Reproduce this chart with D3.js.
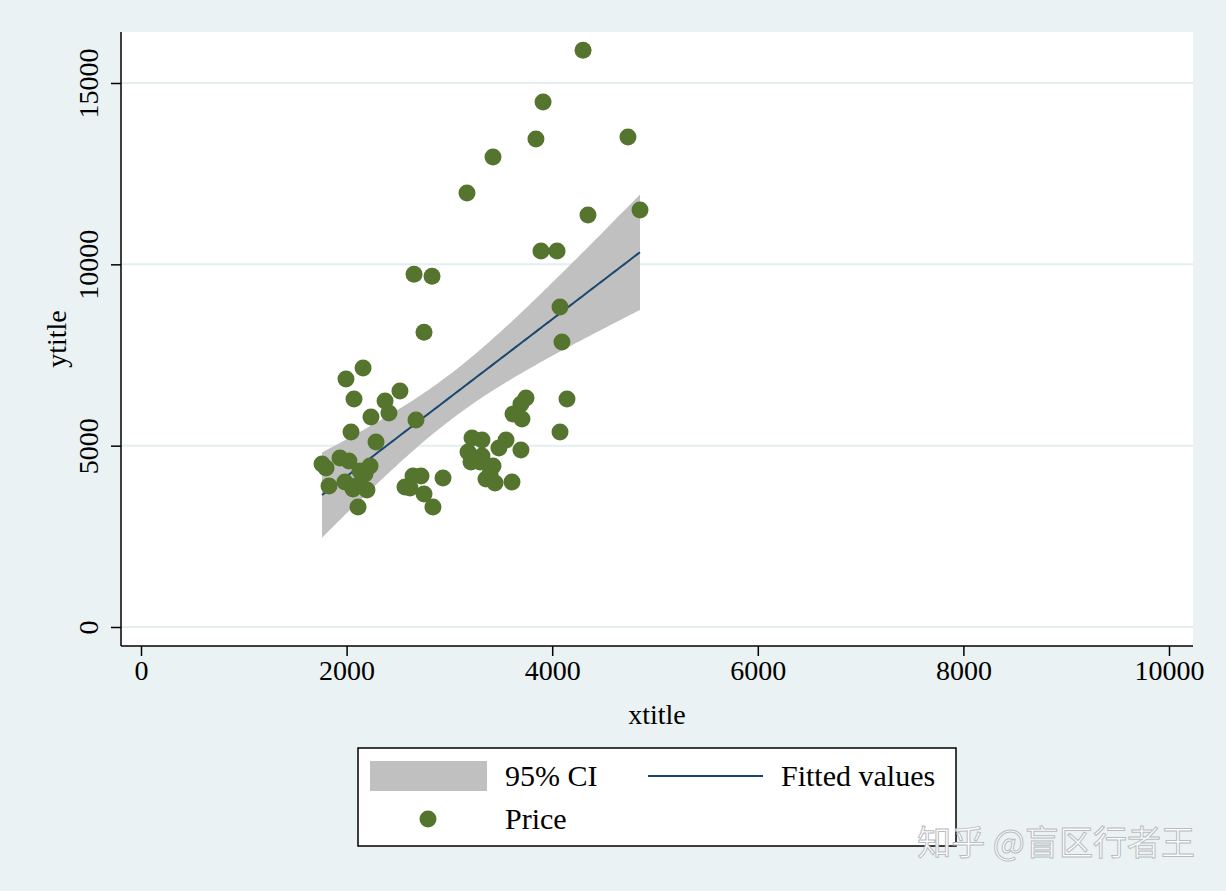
<!DOCTYPE html><html><head><meta charset="utf-8"><script src="https://cdn.jsdelivr.net/npm/d3@7"></script>
<style>body{margin:0;background:#eaf2f3}</style></head><body><svg id="c" width="1226" height="891"></svg><script>
const weight=[4300,3911,4737,3424,3842,3171,4348,4854,3891,4047,2656,2831,2753,4076,4095,2160,1994,2519,2072,2374,2412,2237,4144,3745,3696,3619,3706,2675,2043,2286,3220,3317,3482,3696,3181,3317,4076,1761,1800,1936,2023,2228,2130,3424,3210,3395,2646,2724,2938,1829,1984,2091,2198,2062,2617,2753,3356,3444,3609,2840,2111,2568,2179,3551,3298];
const price=[15900,14475,13509,12959,13455,11966,11359,11497,10366,10366,9727,9672,8127,8823,7858,7141,6837,6506,6286,6231,5900,5790,6286,6314,6148,5873,5735,5707,5376,5100,5211,5155,4935,4880,4825,4715,5376,4494,4384,4659,4577,4439,4301,4439,4549,4218,4163,4163,4108,3888,3998,3888,3777,3805,3833,3667,4080,3970,3998,3309,3309,3860,4218,5155,4549];
const xTicks=[0,2000,4000,6000,8000,10000], yTicks=[0,5000,10000,15000];
const svg=d3.select("#c");
svg.append("rect").attr("width",1226).attr("height",891).attr("fill","#eaf2f3");
svg.append("rect").attr("x",121).attr("y",32).attr("width",1072).attr("height",614).attr("fill","#fff");
const x=d3.scaleLinear([0,10000],[141,1169]), y=d3.scaleLinear([0,15000],[627,83]);
const F="Liberation Serif, Times New Roman, serif";
yTicks.forEach(t=>svg.append("line").attr("x1",121).attr("x2",1193).attr("y1",y(t)).attr("y2",y(t)).attr("stroke","#e4eef0").attr("stroke-width",2));
const n=weight.length, mx=d3.mean(weight), my=d3.mean(price);
let sxx=0,sxy=0;weight.forEach((w,i)=>{sxx+=(w-mx)**2;sxy+=(w-mx)*(price[i]-my)});
const b=sxy/sxx,a=my-b*mx;let sse=0;weight.forEach((w,i)=>sse+=(price[i]-a-b*w)**2);
const s=Math.sqrt(sse/(n-2)), tq=1.997;
const [x0,x1]=d3.extent(weight);const grid=d3.range(0,101).map(i=>x0+(x1-x0)*i/100);
const band=grid.map(g=>{const f=a+b*g,se=s*Math.sqrt(1/n+(g-mx)**2/sxx);return{g,lo:f-tq*se,hi:f+tq*se,f}});
svg.append("path").attr("d",d3.area().x(d=>x(d.g)).y0(d=>y(d.lo)).y1(d=>y(d.hi))(band)).attr("fill","#c0c0c0");
svg.append("path").attr("d",d3.line().x(d=>x(d.g)).y(d=>y(d.f))(band)).attr("fill","none").attr("stroke","#1a476f").attr("stroke-width",2);
weight.forEach((w,i)=>svg.append("circle").attr("cx",x(w)).attr("cy",y(price[i])).attr("r",8.5).attr("fill","#55752f"));
const gx=svg.append("g").attr("transform","translate(0,646)").call(d3.axisBottom(x).tickValues(xTicks).tickFormat(d3.format("d")).tickSize(10).tickSizeOuter(0));
gx.select(".domain").attr("d","M121,0H1193");
const gy=svg.append("g").attr("transform","translate(121,0)").call(d3.axisLeft(y).tickValues(yTicks).tickFormat(d3.format("d")).tickSize(10).tickSizeOuter(0));
gy.select(".domain").attr("d","M0,32V646");
[gx,gy].forEach(g=>{g.selectAll("line,path").attr("stroke","#000").attr("stroke-width",1.5);g.selectAll("text").attr("font-family",F).attr("font-size",28).attr("fill","#000")});
gx.selectAll("text").attr("y",12).attr("dy","0.8em");
gy.selectAll("text").attr("x",0).attr("y",0).attr("dy",0).attr("text-anchor","middle").attr("transform","translate(-23,0) rotate(-90)");
svg.append("text").attr("x",657).attr("y",724).attr("text-anchor","middle").attr("font-family",F).attr("font-size",28).text("xtitle");
svg.append("text").attr("transform","translate(66,339) rotate(-90)").attr("text-anchor","middle").attr("font-family",F).attr("font-size",28).text("ytitle");
svg.append("rect").attr("x",358).attr("y",748).attr("width",598).attr("height",98).attr("fill","#fff").attr("stroke","#000").attr("stroke-width",1.5);
svg.append("rect").attr("x",370).attr("y",761).attr("width",117).attr("height",30).attr("fill","#c0c0c0");
svg.append("line").attr("x1",648).attr("x2",763).attr("y1",776).attr("y2",776).attr("stroke","#1a476f").attr("stroke-width",2);
svg.append("circle").attr("cx",428).attr("cy",819).attr("r",8.5).attr("fill","#55752f");
[["95% CI",505,786],["Fitted values",781,786],["Price",505,829]].forEach(([t,lx,ly])=>svg.append("text").attr("x",lx).attr("y",ly).attr("font-family",F).attr("font-size",30).text(t));
svg.append("text").attr("x",1195).attr("y",855).attr("text-anchor","end").attr("font-family","Noto Sans CJK SC").attr("font-size",34).attr("fill","#ffffff").attr("stroke","#b8bcbf").attr("stroke-width",1).text("知乎 @盲区行者王");
</script></body></html>
